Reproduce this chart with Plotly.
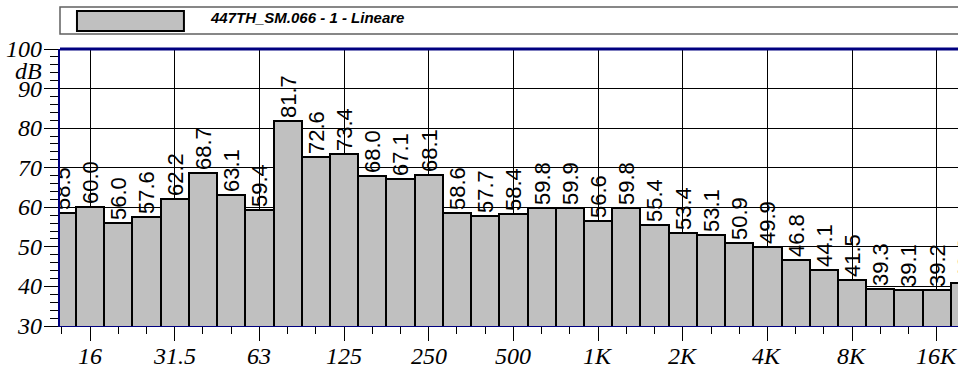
import plotly.graph_objects as go

bands = ["12.5", "16", "20", "25", "31.5", "40", "50", "63", "80", "100", "125",
         "160", "200", "250", "315", "400", "500", "630", "800", "1K", "1.25K",
         "1.6K", "2K", "2.5K", "3.15K", "4K", "5K", "6.3K", "8K", "10K", "12.5K",
         "16K", "20K"]
levels = [58.5, 60.0, 56.0, 57.6, 62.2, 68.7, 63.1, 59.4, 81.7, 72.6, 73.4,
          68.0, 67.1, 68.1, 58.6, 57.7, 58.4, 59.8, 59.9, 56.6, 59.8,
          55.4, 53.4, 53.1, 50.9, 49.9, 46.8, 44.1, 41.5, 39.3, 39.1,
          39.2, 40.8]
octave_labels = ["16", "31.5", "63", "125", "250", "500", "1K", "2K", "4K", "8K", "16K"]
y_ticks = [30, 40, 50, 60, 70, 80, 90, 100]
series_name = "447TH_SM.066 - 1 - Lineare"

idx = list(range(len(bands)))
octave_idx = [bands.index(b) for b in octave_labels]

fig = go.Figure()
fig.add_trace(go.Bar(
    x=idx, y=levels, width=1.0,
    marker=dict(color="#c0c0c0", line=dict(color="black", width=2)),
    texttemplate="%{y:.1f}", textposition="outside", textangle=-90,
    textfont=dict(family="Liberation Sans", size=22, color="black"),
    constraintext="none", cliponaxis=True,
    name=series_name, showlegend=False,
    customdata=bands, hovertemplate="%{customdata}: %{y:.1f} dB<extra></extra>",
))

serif = dict(family="Liberation Serif, Times New Roman, serif", size=24,
             color="black", style="italic")

annotations = [
    dict(text="<b><i>%s</i></b>" % series_name, xref="paper", yref="paper",
         x=0.165, y=1.1155, xanchor="left", yanchor="middle", showarrow=False,
         font=dict(family="Liberation Sans", size=15, color="black")),
    dict(text="<i>dB</i>", xref="paper", yref="paper",
         x=-0.0175, y=0.922, xanchor="right", yanchor="middle", showarrow=False,
         font=serif),
]
for xi, lab in zip(octave_idx, octave_labels):
    annotations.append(dict(text="<i>%s</i>" % lab, xref="x", yref="paper",
                            x=xi, y=-0.108, xanchor="center", yanchor="middle",
                            showarrow=False, font=serif))
for v in y_ticks:
    annotations.append(dict(text="<i>%d</i>" % v, xref="paper", yref="y",
                            x=-0.0175, y=v, xanchor="right", yanchor="middle",
                            showarrow=False, font=serif))

fig.update_layout(
    width=958, height=369,
    margin=dict(l=60, r=0, t=49, b=43),
    paper_bgcolor="white", plot_bgcolor="white",
    bargap=0,
    xaxis=dict(
        range=[-0.064, 31.75], tickmode="array", tickvals=octave_idx,
        showticklabels=False,
        ticks="outside", ticklen=14, tickcolor="black", tickwidth=1,
        automargin=False,
        showgrid=True, gridcolor="black", gridwidth=1,
        showline=True, linecolor="#000080", linewidth=1,
        zeroline=False,
        minor=dict(tickmode="linear", tick0=0, dtick=1, ticks="outside",
                   ticklen=7, tickcolor="black", showgrid=False),
    ),
    yaxis=dict(
        range=[30, 100], tickmode="array", tickvals=y_ticks,
        showticklabels=False,
        ticks="outside", ticklen=14, tickcolor="black", tickwidth=1,
        automargin=False,
        showgrid=True, gridcolor="black", gridwidth=1,
        showline=True, linecolor="#000080", linewidth=2,
        zeroline=False,
        minor=dict(tickmode="linear", tick0=30, dtick=2, ticks="outside",
                   ticklen=8, tickcolor="black", showgrid=False),
    ),
    shapes=[
        dict(type="line", xref="paper", yref="paper", x0=0, x1=1, y0=1, y1=1,
             line=dict(color="#000080", width=3)),
        dict(type="rect", xref="paper", yref="paper", x0=0.0, x1=1.01,
             y0=1.0542, y1=1.1516, line=dict(color="#606060", width=1.5),
             fillcolor="white", layer="above"),
        dict(type="rect", xref="paper", yref="paper", x0=0.0189, x1=0.138,
             y0=1.065, y1=1.137, line=dict(color="black", width=2),
             fillcolor="#c0c0c0", layer="above"),
    ],
    annotations=annotations,
)

fig.write_html(
    "out.html",
    config={"displayModeBar": False},
    post_script="document.body.style.margin='0';document.body.style.overflow='hidden';",
)
